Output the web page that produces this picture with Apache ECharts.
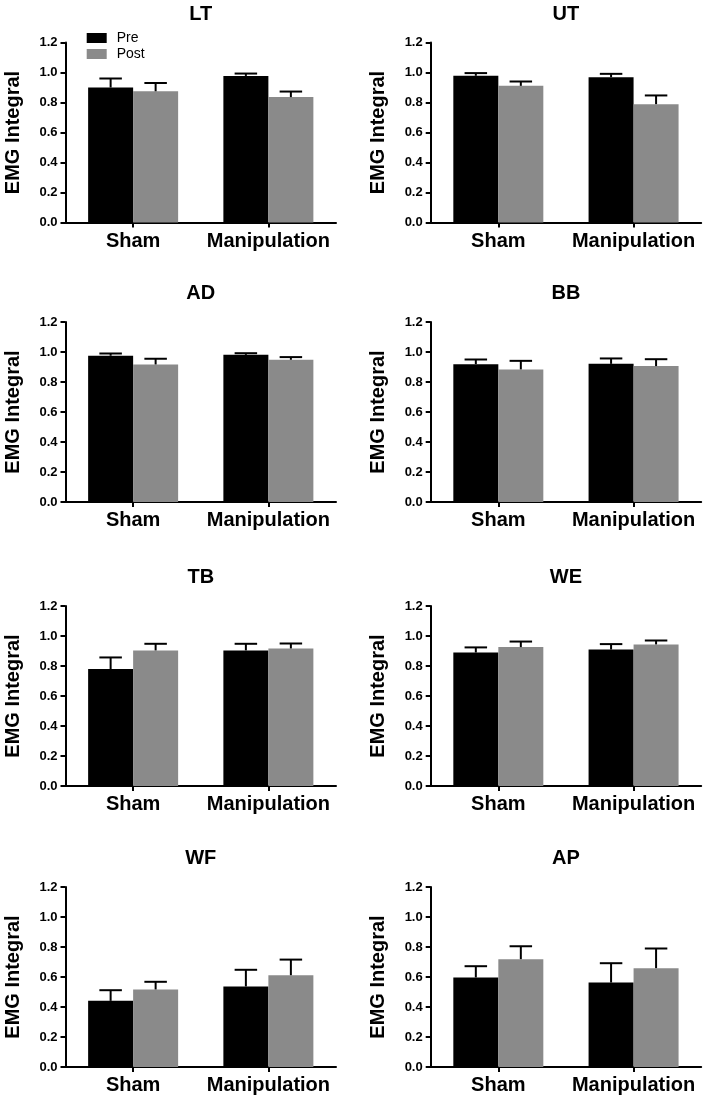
<!DOCTYPE html>
<html>
<head>
<meta charset="utf-8">
<script src="https://cdn.jsdelivr.net/npm/echarts@6/dist/echarts.min.js"></script>
<style>
  html, body { margin: 0; padding: 0; background: #ffffff; }
  #chart { width: 706px; height: 1100px; }
</style>
</head>
<body>
<div id="chart"></div>
<script>
// ---- data ----
const muscles = ['LT', 'UT', 'AD', 'BB', 'TB', 'WE', 'WF', 'AP'];
const categories = ['Sham', 'Manipulation'];
const seriesNames = ['Pre', 'Post'];
const yTickValues = [0.0, 0.2, 0.4, 0.6, 0.8, 1.0, 1.2];
// means [Sham, Manipulation] per muscle
const preMean = [
  [0.900, 0.977], [0.978, 0.969], [0.975, 0.981], [0.919, 0.921],
  [0.780, 0.904], [0.890, 0.910], [0.441, 0.537], [0.597, 0.563]
];
const preSem = [
  [0.060, 0.016], [0.018, 0.022], [0.015, 0.011], [0.031, 0.036],
  [0.077, 0.044], [0.034, 0.036], [0.071, 0.111], [0.075, 0.129]
];
const postMean = [
  [0.875, 0.836], [0.911, 0.789], [0.917, 0.948], [0.884, 0.906],
  [0.904, 0.917], [0.926, 0.944], [0.517, 0.612], [0.719, 0.659]
];
const postSem = [
  [0.055, 0.037], [0.029, 0.058], [0.038, 0.018], [0.057, 0.046],
  [0.044, 0.033], [0.037, 0.026], [0.051, 0.104], [0.086, 0.131]
];

// ---- style / layout ----
const FONT = '"Liberation Sans", Arial, Helvetica, sans-serif';
const PRE_COLOR = '#000000';
const POST_COLOR = '#8a8a8a';
const BAR_W = 45;
const colLeft = [65.5, 430.7];
const plotW = 270.5;
const rowTop = [42.5, 322, 606, 887];
const plotH = 180;

const chart = echarts.init(document.getElementById('chart'), null, { renderer: 'canvas' });

const grids = [], xAxes = [], yAxes = [], series = [], titles = [];

function errRender(offsetSign) {
  return function (params, api) {
    const xi = api.value(0), v = api.value(1), top = api.value(2);
    const p0 = api.coord([xi, v]);
    const p1 = api.coord([xi, top]);
    const cx = p0[0] + offsetSign * BAR_W / 2;
    const hw = BAR_W / 4;
    const st = { stroke: '#000', lineWidth: 2 };
    return {
      type: 'group',
      children: [
        { type: 'line', shape: { x1: cx, y1: p0[1], x2: cx, y2: p1[1] }, style: st },
        { type: 'line', shape: { x1: cx - hw, y1: p1[1], x2: cx + hw, y2: p1[1] }, style: st }
      ]
    };
  };
}

muscles.forEach((m, i) => {
  const col = i % 2, row = Math.floor(i / 2);
  const left = colLeft[col], top = rowTop[row];
  grids.push({ left: left, top: top, width: plotW, height: plotH, containLabel: false });
  titles.push({
    text: m,
    left: left + plotW / 2,
    top: top - 38.5,
    textAlign: 'center',
    padding: 0,
    textStyle: { fontFamily: FONT, fontSize: 20, fontWeight: 'bold', color: '#000' }
  });
  xAxes.push({
    type: 'category',
    gridIndex: i,
    data: categories,
    axisLine: { show: true, lineStyle: { color: '#000', width: 2 } },
    axisTick: { show: true, alignWithLabel: true, length: 5, lineStyle: { color: '#000', width: 2 } },
    axisLabel: { interval: 0, hideOverlap: false, margin: 8.5, fontFamily: FONT, fontSize: 20, fontWeight: 'bold', color: '#000' },
    splitLine: { show: false }
  });
  yAxes.push({
    type: 'value',
    gridIndex: i,
    min: yTickValues[0],
    max: yTickValues[yTickValues.length - 1],
    interval: yTickValues[1] - yTickValues[0],
    name: 'EMG Integral',
    nameLocation: 'middle',
    nameRotate: 90,
    nameGap: 42,
    nameTextStyle: { fontFamily: FONT, fontSize: 20, fontWeight: 'bold', color: '#000' },
    axisLine: { show: true, lineStyle: { color: '#000', width: 2 } },
    axisTick: { show: true, length: 5, lineStyle: { color: '#000', width: 2 } },
    axisLabel: {
      margin: 8, fontFamily: FONT, fontSize: 13, fontWeight: 'bold', color: '#000',
      formatter: v => v.toFixed(1)
    },
    splitLine: { show: false }
  });
  series.push({
    name: seriesNames[0], type: 'bar', xAxisIndex: i, yAxisIndex: i,
    data: preMean[i], barWidth: BAR_W, barGap: '0%',
    itemStyle: { color: PRE_COLOR }, z: 2, animation: false
  });
  series.push({
    name: seriesNames[1], type: 'bar', xAxisIndex: i, yAxisIndex: i,
    data: postMean[i], barWidth: BAR_W, barGap: '0%',
    itemStyle: { color: POST_COLOR }, z: 2, animation: false
  });
  series.push({
    name: 'Pre error', type: 'custom', xAxisIndex: i, yAxisIndex: i, z: 3,
    renderItem: errRender(-1), animation: false,
    data: preMean[i].map((v, k) => [k, v, v + preSem[i][k]])
  });
  series.push({
    name: 'Post error', type: 'custom', xAxisIndex: i, yAxisIndex: i, z: 3,
    renderItem: errRender(1), animation: false,
    data: postMean[i].map((v, k) => [k, v, v + postSem[i][k]])
  });
});

chart.setOption({
  backgroundColor: '#ffffff',
  animation: false,
  title: titles,
  legend: {
    data: seriesNames,
    orient: 'vertical',
    left: 86.7,
    top: 31,
    padding: 0,
    itemGap: 2,
    itemWidth: 20,
    itemHeight: 10,
    icon: 'rect',
    selectedMode: false,
    textStyle: { fontFamily: FONT, fontSize: 14, color: '#000', padding: [0, 0, 0, 5] }
  },
  grid: grids,
  xAxis: xAxes,
  yAxis: yAxes,
  series: series
});
</script>
</body>
</html>
